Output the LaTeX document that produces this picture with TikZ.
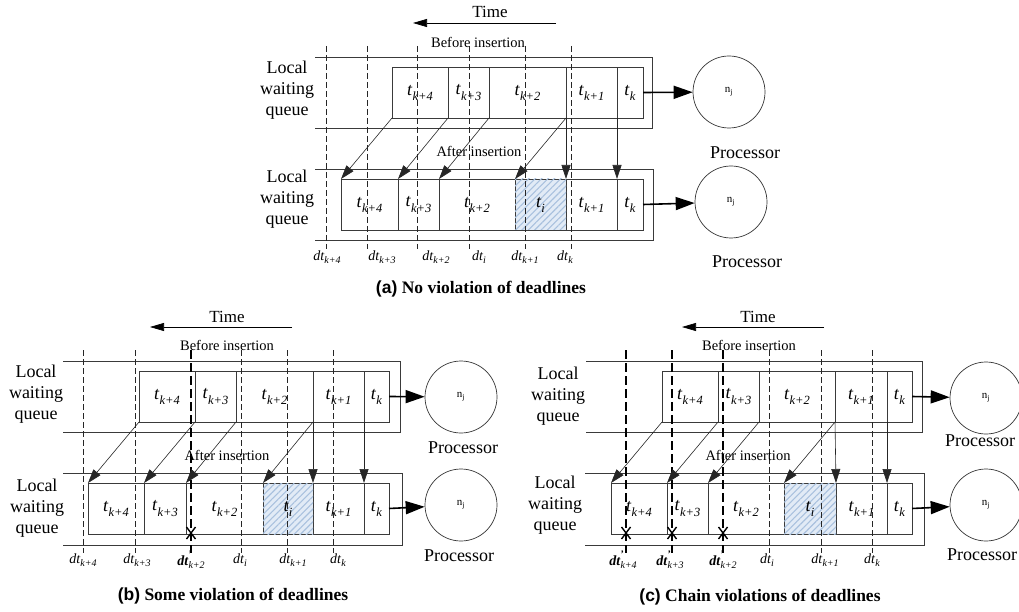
\documentclass[tikz,border=0pt]{standalone}
\usepackage{fontspec}
\setmainfont{Liberation Serif}
\newfontfamily\capsans{Liberation Sans}
\usetikzlibrary{arrows.meta,patterns.meta}

\definecolor{linec}{HTML}{3A3A3A}
\definecolor{hatchbg}{HTML}{E2EBF6}
\definecolor{hatchln}{HTML}{A9C1DE}

\newcommand\fsz[2]{\fontsize{#1}{#2}\selectfont}
% task label t_{...}
\newcommand\tk[1]{\textit{t}\raisebox{-0.28em}{\fsz{12.5}{12.5}\textit{#1}}}
% deadline label dt_{...}
\newcommand\dtk[1]{\textit{dt}\raisebox{-0.25em}{\fsz{10}{10}\textit{#1}}}
% violated deadline dt'_{...}
\newcommand\dtp[1]{\textbf{\textit{dt}}\rlap{\raisebox{0.55em}{\fsz{10}{10}\textbf{'}}}\raisebox{-0.25em}{\fsz{10}{10}\textit{#1}}}
% queue cell: name, left x, right x, top y, subscript
\newcommand\qcell[5]{\pgfmathsetmacro\cellw{#3-#2}%
  \node[qcell,minimum width=\cellw pt,anchor=north west] (#1) at (#2,#4) {\tk{#5}};}
\newcommand\hcell[5]{\pgfmathsetmacro\cellw{#3-#2}%
  \node[qcell,hatchcell,minimum width=\cellw pt,anchor=north west] (#1) at (#2,#4) {\tk{#5}};}

\begin{document}
\begin{tikzpicture}[x=1pt,y=-1pt,
  qcell/.style={draw=linec,line width=0.9pt,minimum height=51pt,inner sep=0pt,outer sep=0pt,font=\fsz{18}{18}},
  hatchcell/.style={fill=hatchbg,postaction={pattern={Lines[angle=45,distance=4.5pt,line width=1.1pt]},pattern color=hatchln}},
  qframe/.style={draw=linec,line width=0.9pt},
  guide/.style={draw=black!85,line width=0.7pt,dash pattern=on 6pt off 3pt},
  late/.style={draw=black,line width=1.3pt,dash pattern=on 9pt off 4pt},
  move/.style={draw=black!85,line width=0.6pt,-{Triangle[length=14pt,width=9pt]}},
  feed/.style={draw=black,line width=1.6pt,-{Triangle[length=19pt,width=13pt]}},
  timearr/.style={draw=black,line width=0.7pt,-{Triangle[length=14pt,width=8pt]}},
  proc/.style={circle,draw=black!80,line width=0.7pt,minimum size=72pt,inner sep=0pt,font=\fsz{11}{11}},
  plab/.style={font=\fsz{18}{18}},
  lwq/.style={align=center,font=\fsz{18}{21}},
  phase/.style={font=\fsz{14.5}{14.5}},
  timelab/.style={font=\fsz{17}{17}},
  dlab/.style={font=\fsz{14}{14}},
  capt/.style={font=\fsz{17.5}{17.5}\bfseries},
  xm/.style={draw=black,line width=1.4pt}]
\clip (0,0) rectangle (1019,612);

% ================= (a) =================
\draw[qframe] (315,57) -| (652,128) -- (315,128);
\draw[qframe] (315,169) -| (653,240) -- (315,240);
\foreach \n/\xa/\xb/\s in {aT4/392/448/k+4, aT3/448/489/k+3, aT2/489/566/k+2, aT1/566/617/k+1, aT0/617/643/k}
  {\qcell{\n}{\xa}{\xb}{67}{\s}}
\foreach \n/\xa/\xb/\s in {aB4/341/398/k+4, aB3/398/439/k+3, aB2/439/515/k+2, aB1/566/617/k+1, aB0/617/643/k}
  {\qcell{\n}{\xa}{\xb}{179}{\s}}
\hcell{aBi}{515}{566}{179}{i}

\foreach \i/\x/\lx/\s in {1/326/327/k+4, 2/367/382/k+3, 3/417/436/k+2, 4/469/479/i, 5/525/525/k+1, 6/571/565/k}
  {\draw[guide] (\x,46) -- (\x,249);
   \node[dlab] (aD\i) at (\lx,257) {\dtk{\s}};}

\draw[move] (aT4.south west) -- (aB4.north west);
\draw[move] (aT3.south west) -- (aB3.north west);
\draw[move] (aT2.south west) -- (aB2.north west);
\draw[move] (aT1.south west) -- (aBi.north west);
\draw[move] (aT1.south west) -- (aB1.north west);
\draw[move] (aT0.south west) -- (aB0.north west);

\node[proc] (aPT) at (729,92) {n\textsubscript{j}};
\node[proc] (aPB) at (731,202) {n\textsubscript{j}};
\draw[feed] (aT0.east) -- (aPT);
\draw[feed] (aB0.east) -- (aPB);
\node[plab] (aPTl) at (745,153) {Processor};
\node[plab] (aPBl) at (747,262) {Processor};

\node[timelab] (aTime) at (490,12) {Time};
\coordinate (aTa) at (556,23);
\coordinate (aTb) at (413,23);
\draw[timearr] (aTa) -- (aTb);
\node[phase] (aBefore) at (478,42) {Before insertion};
\node[phase] (aAfter) at (479,151) {After insertion};
\node[lwq] (aQT) at (287,90) {Local\\waiting\\queue};
\node[lwq] (aQB) at (287,199) {Local\\waiting\\queue};
\node[capt] (aCap) at (481,289) {{\capsans(a)} No violation of deadlines};

% ================= (b) =================
\draw[qframe] (63,361) -| (400,432) -- (63,432);
\draw[qframe] (63,473) -| (402,545) -- (63,545);
\foreach \n/\xa/\xb/\s in {bT4/139/195/k+4, bT3/195/236/k+3, bT2/236/313/k+2, bT1/313/364/k+1, bT0/364/389/k}
  {\qcell{\n}{\xa}{\xb}{371}{\s}}
\foreach \n/\xa/\xb/\s in {bB4/88/144/k+4, bB3/144/186/k+3, bB2/186/263/k+2, bB1/313/364/k+1, bB0/364/389/k}
  {\qcell{\n}{\xa}{\xb}{483}{\s}}
\hcell{bBi}{263}{313}{483}{i}

\foreach \i/\x/\lx/\s in {1/83/83/k+4, 2/135/137/k+3, 4/241/240/i, 5/287/293/k+1, 6/333/338/k}
  {\draw[guide] (\x,350) -- (\x,553);
   \node[dlab] (bD\i) at (\lx,560) {\dtk{\s}};}
\draw[late] (191,350) -- (191,553);
\node[dlab] (bD3) at (191,560) {\dtp{k+2}};
\draw[xm] (191,533) +(-4.5,-6) -- +(4.5,6) +(-4.5,6) -- +(4.5,-6);

\draw[move] (bT4.south west) -- (bB4.north west);
\draw[move] (bT3.south west) -- (bB3.north west);
\draw[move] (bT2.south west) -- (bB2.north west);
\draw[move] (bT1.south west) -- (bBi.north west);
\draw[move] (bT1.south west) -- (bB1.north west);
\draw[move] (bT0.south west) -- (bB0.north west);

\node[proc] (bPT) at (461,397) {n\textsubscript{j}};
\node[proc] (bPB) at (461,505) {n\textsubscript{j}};
\draw[feed] (bT0.east) -- (bPT);
\draw[feed] (bB0.east) -- (bPB);
\node[plab] (bPTl) at (463,448) {Processor};
\node[plab] (bPBl) at (459,556) {Processor};

\node[timelab] (bTime) at (227,317) {Time};
\coordinate (bTa) at (292,327);
\coordinate (bTb) at (150,327);
\draw[timearr] (bTa) -- (bTb);
\node[phase] (bBefore) at (227,345) {Before insertion};
\node[phase] (bAfter) at (227,455) {After insertion};
\node[lwq] (bQT) at (36,394) {Local\\waiting\\queue};
\node[lwq] (bQB) at (37,508) {Local\\waiting\\queue};
\node[capt] (bCap) at (233,596) {{\capsans(b)} Some violation of deadlines};

% ================= (c) =================
\draw[qframe] (586,361) -| (922,432) -- (586,432);
\draw[qframe] (585,473) -| (924,545) -- (585,545);
\foreach \n/\xa/\xb/\s in {cT4/662/718/k+4, cT3/718/759/k+3, cT2/759/835/k+2, cT1/835/887/k+1, cT0/887/912/k}
  {\qcell{\n}{\xa}{\xb}{371}{\s}}
\foreach \n/\xa/\xb/\s in {cB4/611/667/k+4, cB3/667/708/k+3, cB2/708/784/k+2, cB1/836/887/k+1, cB0/887/912/k}
  {\qcell{\n}{\xa}{\xb}{483}{\s}}
\hcell{cBi}{784}{836}{483}{i}

\foreach \i/\x/\lx/\s in {4/769/767/i, 5/821/825/k+1, 6/872/872/k}
  {\draw[guide] (\x,350) -- (\x,553);
   \node[dlab] (cD\i) at (\lx,560) {\dtk{\s}};}
\foreach \i/\x/\lx/\s in {1/626/623/k+4, 2/672/670/k+3, 3/723/723/k+2}
  {\draw[late] (\x,350) -- (\x,553);
   \node[dlab] (cD\i) at (\lx,560) {\dtp{\s}};
   \draw[xm] (\x,533) +(-4.5,-6) -- +(4.5,6) +(-4.5,6) -- +(4.5,-6);}

\draw[move] (cT4.south west) -- (cB4.north west);
\draw[move] (cT3.south west) -- (cB3.north west);
\draw[move] (cT2.south west) -- (cB2.north west);
\draw[move] (cT1.south west) -- (cBi.north west);
\draw[move] (cT1.south west) -- (cB1.north west);
\draw[move] (cT0.south west) -- (cB0.north west);

\node[proc] (cPT) at (986,398) {n\textsubscript{j}};
\node[proc] (cPB) at (986,505) {n\textsubscript{j}};
\draw[feed] (cT0.east) -- (cPT);
\draw[feed] (cB0.east) -- (cPB);
\node[plab] (cPTl) at (980,441) {Processor};
\node[plab] (cPBl) at (982,555) {Processor};

\node[timelab] (cTime) at (758,317) {Time};
\coordinate (cTa) at (824,327);
\coordinate (cTb) at (682,327);
\draw[timearr] (cTa) -- (cTb);
\node[phase] (cBefore) at (749,345) {Before insertion};
\node[phase] (cAfter) at (748,455) {After insertion};
\node[lwq] (cQT) at (558,396) {Local\\waiting\\queue};
\node[lwq] (cQB) at (555,505) {Local\\waiting\\queue};
\node[capt] (cCap) at (760,597) {{\capsans(c)} Chain violations of deadlines};
\end{tikzpicture}
\end{document}
